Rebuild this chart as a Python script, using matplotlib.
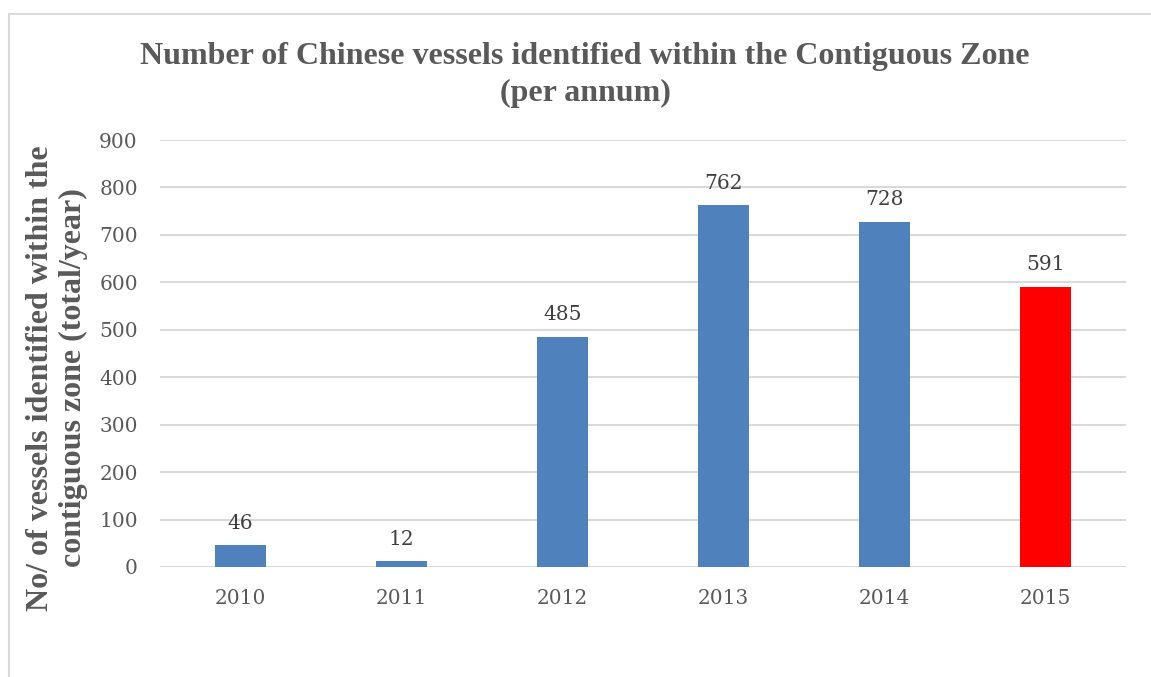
import matplotlib
matplotlib.use("Agg")
import matplotlib.pyplot as plt
from matplotlib.patches import Rectangle

years = ["2010", "2011", "2012", "2013", "2014", "2015"]
vessels = [46, 12, 485, 762, 728, 591]
bar_colors = ["#4F81BD", "#4F81BD", "#4F81BD", "#4F81BD", "#4F81BD", "#FF0000"]
y_ticks = [0, 100, 200, 300, 400, 500, 600, 700, 800, 900]

W, H = 1151, 677
fig = plt.figure(figsize=(W / 100, H / 100), dpi=100)
ax = fig.add_axes([160 / W, 1 - 567 / H, (1126 - 160) / W, (567 - 140) / H])

x = range(len(years))
bars = ax.bar(x, vessels, width=0.317, color=bar_colors, zorder=3)
for b, v in zip(bars, vessels):
    ax.annotate(str(v), (b.get_x() + b.get_width() / 2, v), xytext=(0, 9),
                textcoords="offset points", ha="center", va="bottom",
                fontsize=14.5, family="DejaVu Serif", color="#404040")

ax.set_xlim(-0.5, len(years) - 0.5)
ax.set_ylim(0, 900)
ax.set_yticks(y_ticks)
ax.set_xticks(list(x))
ax.set_xticklabels(years)
ax.grid(axis="y", color="#D9D9D9", linewidth=1.5, zorder=0)
for s in ax.spines.values():
    s.set_visible(False)
ax.tick_params(length=0, pad=16, labelsize=14.5, colors="#595959")
for lab in ax.get_xticklabels() + ax.get_yticklabels():
    lab.set_family("DejaVu Serif")
ax.tick_params(axis="x", pad=16)

fig.text(585 / W, 1 - 75 / H,
         "Number of Chinese vessels identified within the Contiguous Zone\n(per annum)",
         ha="center", va="center", fontsize=23, fontweight="bold",
         family="Liberation Serif", color="#595959", linespacing=1.32)

fig.text(57 / W, 1 - 378 / H,
         "No/ of vessels identified within the\ncontiguous zone (total/year)",
         ha="center", va="center", rotation=90, fontsize=23, fontweight="bold",
         family="Liberation Serif", color="#595959", linespacing=1.22)

border = Rectangle((8.5 / W, -0.1), 1.2, 1.1 - 13.5 / H, transform=fig.transFigure,
                   fill=False, edgecolor="#D9D9D9", linewidth=1.5, clip_on=False)
fig.patches.append(border)

fig.savefig("out.png", dpi=100)
